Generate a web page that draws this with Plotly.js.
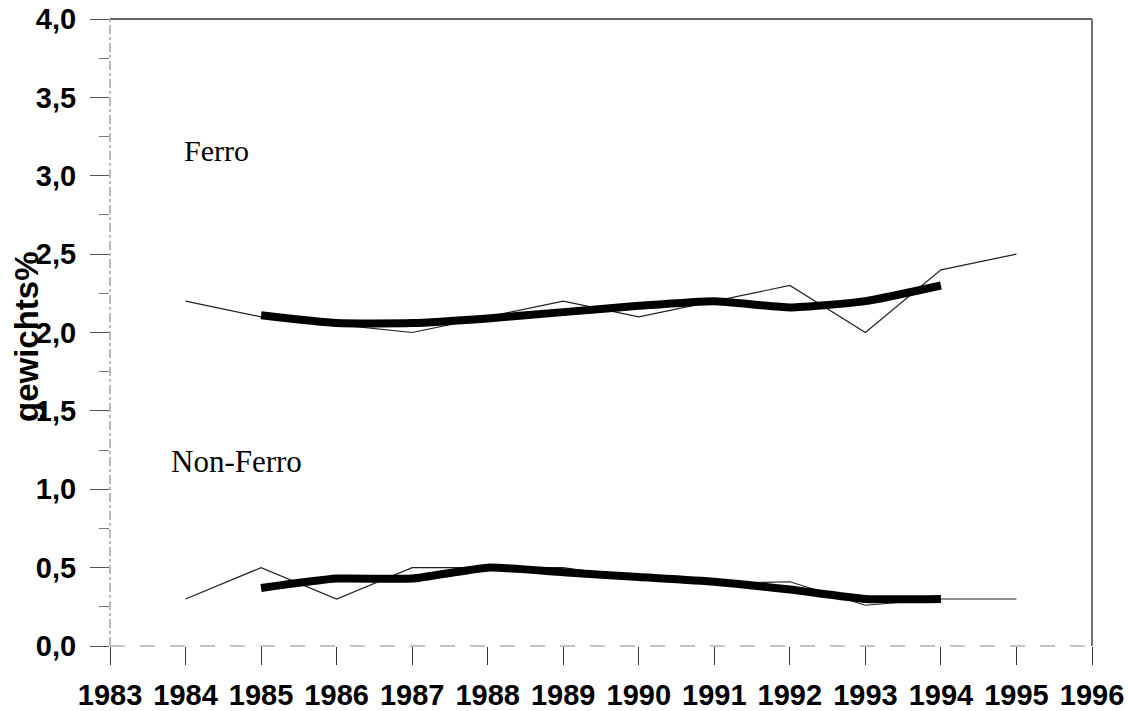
<!DOCTYPE html>
<html>
<head>
<meta charset="utf-8">
<script src="https://cdn.plot.ly/plotly-3.0.1.min.js"></script>
<style>html,body{margin:0;padding:0;background:#fff;}#chart{width:1128px;height:711px;}</style>
</head>
<body>
<div id="chart"></div>
<script>
// Data
const years = [1984, 1985, 1986, 1987, 1988, 1989, 1990, 1991, 1992, 1993, 1994, 1995];
const ferroYearly = [2.2, 2.1, 2.05, 2.0, 2.1, 2.2, 2.1, 2.2, 2.3, 2.0, 2.4, 2.5];
const nonFerroYearly = [0.3, 0.5, 0.3, 0.5, 0.5, 0.5, 0.43, 0.4, 0.41, 0.26, 0.3, 0.3];

const trendYears = [1985, 1986, 1987, 1988, 1989, 1990, 1991, 1992, 1993, 1994];
const ferroTrend = [2.11, 2.06, 2.06, 2.09, 2.13, 2.17, 2.2, 2.16, 2.2, 2.3];
const nonFerroTrend = [0.37, 0.43, 0.43, 0.5, 0.47, 0.44, 0.41, 0.36, 0.3, 0.3];

const xTicks = [1983, 1984, 1985, 1986, 1987, 1988, 1989, 1990, 1991, 1992, 1993, 1994, 1995, 1996];
const yTicks = [0, 0.5, 1, 1.5, 2, 2.5, 3, 3.5, 4];

const thin = {color: '#222', width: 1.2};
const thick = {color: '#000', width: 8, shape: 'spline', smoothing: 0.5};

const traces = [
  {x: years, y: ferroYearly, mode: 'lines', line: thin, name: 'Ferro'},
  {x: years, y: nonFerroYearly, mode: 'lines', line: thin, name: 'Non-Ferro'},
  {x: trendYears, y: ferroTrend, mode: 'lines', line: thick, name: 'Ferro trend'},
  {x: trendYears, y: nonFerroTrend, mode: 'lines', line: thick, name: 'Non-Ferro trend'}
];

const tickFont = {family: 'Liberation Sans, Arial, sans-serif', size: 29, color: '#000', weight: 'bold'};

const layout = {
  width: 1128, height: 711,
  margin: {l: 110, r: 36, t: 19, b: 65},
  paper_bgcolor: '#fff', plot_bgcolor: '#fff',
  showlegend: false,
  separators: ',.',
  xaxis: {
    range: [1983, 1996], tickvals: xTicks, ticktext: xTicks.map(String),
    ticks: 'outside', ticklen: 18, tickwidth: 1, tickcolor: '#333',
    showgrid: false, zeroline: false, showline: false,
    tickfont: tickFont, ticklabelstandoff: 5
  },
  yaxis: {
    range: [0, 4], tickvals: yTicks, tickformat: '.1f',
    ticks: 'outside', ticklen: 19, tickwidth: 1, tickcolor: '#555',
    minor: {dtick: 0.25, ticks: 'outside', ticklen: 10, tickcolor: '#777', tickwidth: 1, showgrid: false},
    showgrid: false, zeroline: false, showline: false,
    tickfont: tickFont, ticklabelstandoff: 8
  },
  shapes: [
    {type: 'line', xref: 'paper', yref: 'paper', x0: 0, x1: 1, y0: 1, y1: 1, line: {color: '#333', width: 1.5}},
    {type: 'line', xref: 'paper', yref: 'paper', x0: 1, x1: 1, y0: 0, y1: 1, line: {color: '#444', width: 1.5}},
    {type: 'line', xref: 'paper', yref: 'paper', x0: 0, x1: 0, y0: 0, y1: 1, line: {color: '#777', width: 1, dash: 'dashdot'}},
    {type: 'line', xref: 'paper', yref: 'paper', x0: 0, x1: 1, y0: 0, y1: 0, line: {color: '#888', width: 1, dash: 'longdash'}}
  ],
  annotations: [
    {text: 'Ferro', xref: 'paper', yref: 'paper', x: (216 - 110) / 982, y: (646 - 150) / 627,
     xanchor: 'center', yanchor: 'middle',
     showarrow: false, font: {family: 'Liberation Serif, Times New Roman, serif', size: 30, color: '#000'}},
    {text: 'Non-Ferro', xref: 'paper', yref: 'paper', x: (236 - 110) / 982, y: (646 - 461) / 627,
     xanchor: 'center', yanchor: 'middle',
     showarrow: false, font: {family: 'Liberation Serif, Times New Roman, serif', size: 31, color: '#000'}},
    {text: 'gewichts%', xref: 'paper', yref: 'paper', x: (26 - 110) / 982, y: (646 - 337) / 627,
     xanchor: 'center', yanchor: 'middle',
     textangle: -90, showarrow: false,
     font: {family: 'Liberation Sans, Arial, sans-serif', size: 33, color: '#000', weight: 'bold'}}
  ]
};

Plotly.newPlot('chart', traces, layout, {displayModeBar: false, staticPlot: true});
</script>
</body>
</html>
